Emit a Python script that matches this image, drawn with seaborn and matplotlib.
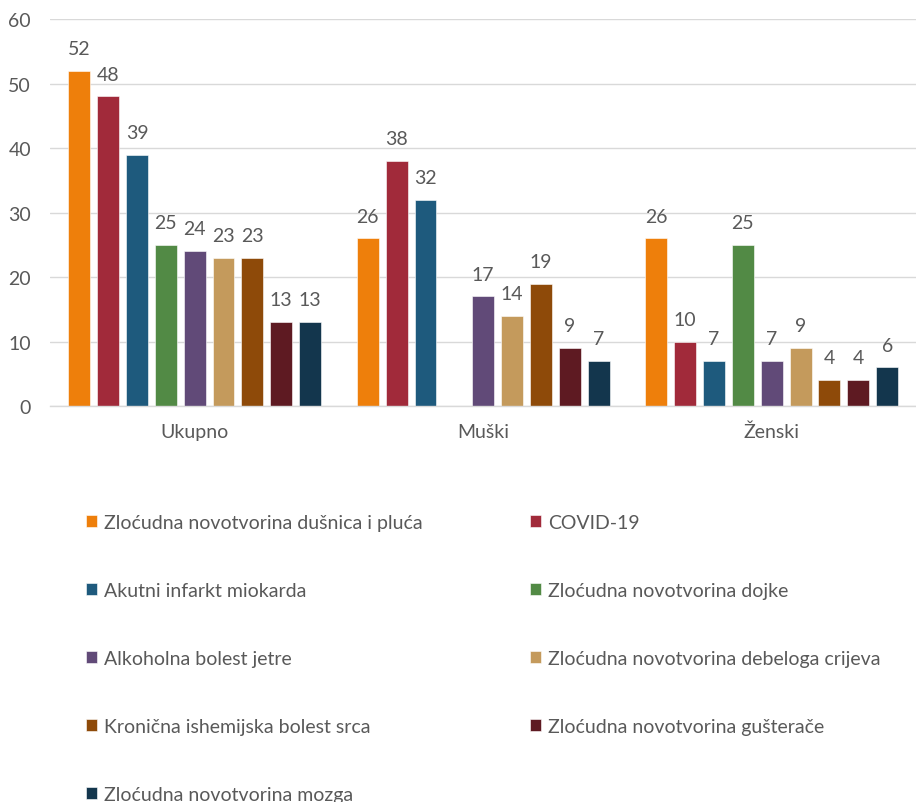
import matplotlib
matplotlib.use("Agg")
import matplotlib.pyplot as plt
import seaborn as sns
import pandas as pd
import numpy as np

groups = ["Ukupno", "Muški", "Ženski"]
causes = [
    "Zloćudna novotvorina dušnica i pluća",
    "COVID-19",
    "Akutni infarkt miokarda",
    "Zloćudna novotvorina dojke",
    "Alkoholna bolest jetre",
    "Zloćudna novotvorina debeloga crijeva",
    "Kronična ishemijska bolest srca",
    "Zloćudna novotvorina gušterače",
    "Zloćudna novotvorina mozga",
]
ukupno = [52, 48, 39, 25, 24, 23, 23, 13, 13]
muski = [26, 38, 32, np.nan, 17, 14, 19, 9, 7]
zenski = [26, 10, 7, 25, 7, 9, 4, 4, 6]

colors = ["#EE7F0B", "#A12A3A", "#1E5A7D", "#528A45", "#614A78",
          "#C49A5C", "#8E4A09", "#5E1A22", "#13364D"]

rows = []
for g, vals in zip(groups, [ukupno, muski, zenski]):
    for c, v in zip(causes, vals):
        rows.append({"group": g, "cause": c, "value": v})
df = pd.DataFrame(rows).dropna()

sns.set_theme(style="white")
plt.rcParams["font.family"] = ["Lato", "DejaVu Sans"]
text_col = "#595959"

fig = plt.figure(figsize=(9.16, 8.03), dpi=100)
ax = fig.add_axes([0.055, 0.493, 0.945, 0.482])

sns.barplot(data=df, x="group", y="value", hue="cause", order=groups,
            hue_order=causes, palette=colors, width=0.9, gap=0.24,
            edgecolor="white", linewidth=0.4, saturation=1, ax=ax, legend=True)

for cont in ax.containers:
    ax.bar_label(cont, fmt="%g", padding=10, fontsize=14, color=text_col)

ax.set_ylim(0, 60)
ax.set_xlim(-0.5, 2.5)
ax.set_yticks(range(0, 61, 10))
ax.yaxis.grid(True, color="#d9d9d9", linewidth=1)
ax.set_axisbelow(True)
for s in ["top", "right", "left"]:
    ax.spines[s].set_visible(False)
ax.spines["bottom"].set_color("#d9d9d9")
ax.spines["bottom"].set_linewidth(1)
ax.tick_params(axis="y", length=0, pad=14, labelsize=14, labelcolor=text_col)
ax.tick_params(axis="x", length=0, pad=12, labelsize=14, labelcolor=text_col)
ax.set_xlabel("")
ax.set_ylabel("")

handles, labels = ax.get_legend_handles_labels()
ax.get_legend().remove()

leg_kw = dict(frameon=False, fontsize=14, labelcolor=text_col,
              handlelength=0.55, handleheight=0.55, handletextpad=0.4,
              labelspacing=2.62, borderaxespad=0, borderpad=0)
left_idx = [0, 2, 4, 6, 8]
right_idx = [1, 3, 5, 7]
fig.legend([handles[i] for i in left_idx], [labels[i] for i in left_idx],
           loc="upper left", bbox_to_anchor=(86 / 916, 1 - 515 / 803), **leg_kw)
fig.legend([handles[i] for i in right_idx], [labels[i] for i in right_idx],
           loc="upper left", bbox_to_anchor=(530 / 916, 1 - 515 / 803), **leg_kw)

fig.savefig("out.png", dpi=100)
